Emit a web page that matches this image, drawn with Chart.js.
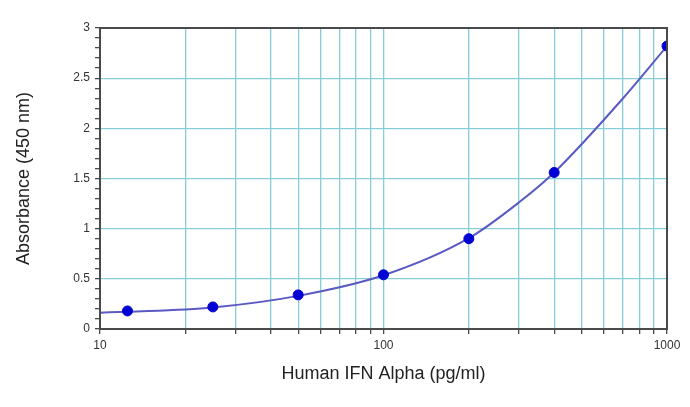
<!DOCTYPE html>
<html>
<head>
<meta charset="utf-8">
<script src="https://cdn.jsdelivr.net/npm/chart.js@4"></script>
<style>
  html, body { margin: 0; padding: 0; background: #fff; }
  #wrap { width: 690px; height: 407px; }
</style>
</head>
<body>
<div id="wrap"><canvas id="stdCurve" width="690" height="407"></canvas></div>
<script>
// standards (pg/ml) and measured absorbance
const concentrations = [12.5, 25, 50, 100, 200, 400, 1000];
const absorbance = [0.18, 0.22, 0.34, 0.54, 0.90, 1.56, 2.82];

// fitted curve
const fitX = [10, 12.5, 25, 50, 100, 200, 300, 400, 700, 1000];
const fitY = [0.163, 0.172, 0.215, 0.33, 0.535, 0.905, 1.26, 1.56, 2.30, 2.82];

// log grid positions and the ones that get a label
const xGrid = [10, 20, 30, 40, 50, 60, 70, 80, 90, 100, 200, 300, 400, 500, 600, 700, 800, 900, 1000];
const xLabels = [10, 100, 1000];
const yLabels = [0, 0.5, 1, 1.5, 2, 2.5, 3];

const gridColor = '#86cdd8';
const axisColor = '#4a4a4a';
const fontFamily = 'Liberation Sans, Arial, sans-serif';

// dark frame round the plot area
const frame = {
  id: 'frame',
  afterDraw(chart) {
    const { ctx, chartArea: a } = chart;
    ctx.save();
    ctx.strokeStyle = axisColor;
    ctx.lineWidth = 2;
    ctx.strokeRect(a.left, a.top, a.right - a.left, a.bottom - a.top);
    ctx.restore();
  }
};

const isMajorY = v => yLabels.some(l => Math.abs(l - v) < 1e-6);

new Chart(document.getElementById('stdCurve').getContext('2d'), {
  type: 'scatter',
  data: {
    datasets: [
      {
        label: 'Standards',
        data: concentrations.map((c, i) => ({ x: c, y: absorbance[i] })),
        backgroundColor: '#0000d4',
        borderColor: '#0000d4',
        pointRadius: 5,
        showLine: false,
        order: 0
      },
      {
        label: 'Fit',
        data: fitX.map((c, i) => ({ x: c, y: fitY[i] })),
        borderColor: '#5a5ac4',
        borderWidth: 2,
        pointRadius: 0,
        showLine: true,
        cubicInterpolationMode: 'monotone',
        order: 1
      }
    ]
  },
  options: {
    responsive: false,
    animation: false,
    layout: { padding: { top: 28, right: 23, left: 0, bottom: 0 } },
    plugins: { legend: { display: false }, tooltip: { enabled: false } },
    scales: {
      x: {
        type: 'logarithmic',
        min: 10,
        max: 1000,
        afterBuildTicks: s => { s.ticks = xGrid.map(v => ({ value: v })); },
        afterFit: s => { s.height = 78; },
        border: { color: axisColor, width: 2 },
        grid: { color: gridColor, lineWidth: 1.3, tickColor: axisColor, tickLength: 5 },
        ticks: {
          autoSkip: false,
          maxRotation: 0,
          padding: 4,
          color: '#333',
          font: { family: fontFamily, size: 12 },
          callback: v => xLabels.includes(v) ? String(v) : ''
        },
        title: {
          display: true,
          text: 'Human IFN Alpha (pg/ml)',
          color: '#222',
          font: { family: fontFamily, size: 18 },
          padding: { top: 22, bottom: 22 }
        }
      },
      y: {
        min: 0,
        max: 3,
        afterFit: s => { s.width = 100; },
        border: { color: axisColor, width: 2 },
        grid: {
          color: c => isMajorY(c.tick.value) ? gridColor : 'rgba(0,0,0,0)',
          lineWidth: 1.3,
          tickColor: axisColor,
          tickLength: 5
        },
        ticks: {
          stepSize: 0.1,
          autoSkip: false,
          padding: 5,
          color: '#333',
          font: { family: fontFamily, size: 12 },
          callback: v => isMajorY(v) ? String(Math.round(v * 10) / 10) : ''
        },
        title: {
          display: true,
          text: 'Absorbance (450 nm)',
          color: '#222',
          font: { family: fontFamily, size: 18 },
          padding: { top: 13, bottom: 13 }
        }
      }
    }
  },
  plugins: [frame]
});
</script>
</body>
</html>
